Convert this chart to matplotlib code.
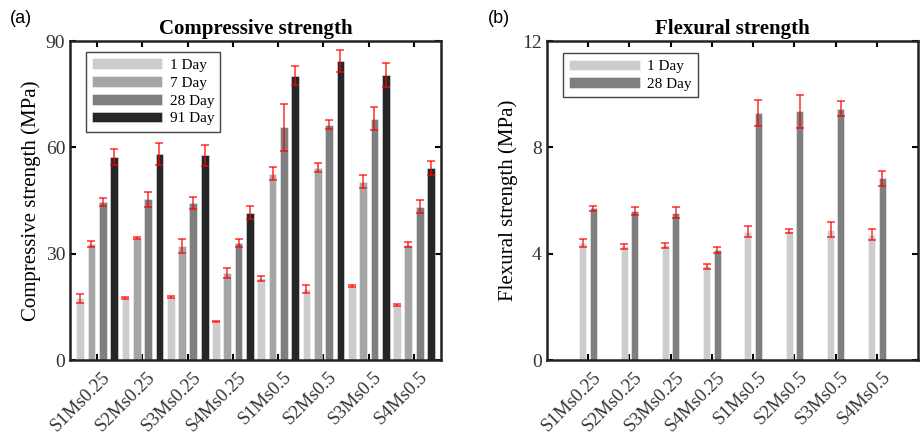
import matplotlib
matplotlib.use("Agg")
import matplotlib.pyplot as plt
import matplotlib.transforms as mtransforms
import numpy as np

plt.rcParams['font.family'] = ['Liberation Serif', 'DejaVu Serif']

labels = ['S1Ms0.25', 'S2Ms0.25', 'S3Ms0.25', 'S4Ms0.25',
          'S1Ms0.5', 'S2Ms0.5', 'S3Ms0.5', 'S4Ms0.5']

# compressive strength (MPa)
comp_1d = [17.4, 17.5, 17.8, 10.8, 23.0, 20.0, 20.9, 15.4]
comp_1d_err = [1.3, 0.3, 0.3, 0.1, 0.7, 1.2, 0.4, 0.3]
comp_7d = [32.8, 34.5, 32.2, 24.5, 52.6, 54.3, 50.3, 32.5]
comp_7d_err = [0.8, 0.3, 2.0, 1.5, 1.9, 1.3, 1.8, 0.7]
comp_28d = [44.6, 45.3, 44.2, 33.1, 65.6, 66.4, 68.1, 43.3]
comp_28d_err = [1.2, 2.0, 1.7, 1.1, 6.5, 1.2, 3.3, 1.8]
comp_91d = [57.3, 58.1, 57.7, 41.6, 80.2, 84.3, 80.3, 54.2]
comp_91d_err = [2.3, 3.0, 2.9, 1.8, 2.7, 3.1, 3.4, 2.0]

# flexural strength (MPa)
flex_1d = [4.41, 4.28, 4.31, 3.53, 4.83, 4.85, 4.90, 4.72]
flex_1d_err = [0.15, 0.10, 0.09, 0.09, 0.20, 0.08, 0.28, 0.22]
flex_28d = [5.70, 5.59, 5.54, 4.13, 9.29, 9.35, 9.46, 6.83]
flex_28d_err = [0.10, 0.15, 0.21, 0.11, 0.48, 0.63, 0.29, 0.28]

c1, c7, c28, c91 = '#cccccc', '#a5a5a5', '#7f7f7f', '#262626'

fig = plt.figure(figsize=(9.21, 4.34), dpi=100)
ax1 = fig.add_axes([0.076, 0.1705, 0.403, 0.735])
ax2 = fig.add_axes([0.5936, 0.1705, 0.4035, 0.735])

x = np.arange(1, len(labels) + 1)
w = 0.17


def draw(ax, series, offsets):
    for (vals, errs, col, name), off in zip(series, offsets):
        ax.bar(x + off, vals, w, color=col, edgecolor=(1, 1, 1, 0.5),
               linewidth=0.6, label=name, zorder=2)
    for (vals, errs, col, name), off in zip(series, offsets):
        ax.errorbar(x + off, vals, yerr=errs, fmt='none', ecolor=(1, 0, 0, 0.75),
                    elinewidth=1.2, capsize=3, capthick=1.2, zorder=3)


draw(ax1, [(comp_1d, comp_1d_err, c1, '1 Day'),
           (comp_7d, comp_7d_err, c7, '7 Day'),
           (comp_28d, comp_28d_err, c28, '28 Day'),
           (comp_91d, comp_91d_err, c91, '91 Day')],
     [-0.375, -0.125, 0.125, 0.375])
draw(ax2, [(flex_1d, flex_1d_err, c1, '1 Day'),
           (flex_28d, flex_28d_err, c28, '28 Day')],
     [-0.127, 0.127])

ax1.set_xlim(0.4, 8.6)
ax1.set_ylim(0, 90)
ax1.set_yticks([0, 30, 60, 90])
ax1.set_ylabel('Compressive strength (MPa)', fontsize=15, labelpad=3)
ax1.set_title('Compressive strength', fontsize=15, fontweight='bold', pad=5)

ax2.set_xlim(0, 9)
ax2.set_ylim(0, 12)
ax2.set_yticks([0, 4, 8, 12])
ax2.set_ylabel('Flexural strength (MPa)', fontsize=15, labelpad=3)
ax2.set_title('Flexural strength', fontsize=15, fontweight='bold', pad=5)

for ax, anchor in [(ax1, (0.042, 0.965)), (ax2, (0.0447, 0.961))]:
    ax.set_xticks(x)
    ax.set_xticklabels(labels, rotation=45, ha='right')
    ax.tick_params(direction='in', length=4, width=1.5, labelsize=14,
                   top=True, right=True, colors='black')
    ax.tick_params(axis='y', labelcolor='#333333')
    ax.tick_params(axis='x', labelcolor='#333333', labelsize=13.5, pad=6)
    for s in ax.spines.values():
        s.set_linewidth(1.8)
        s.set_color('#222222')
    shift = mtransforms.ScaledTranslation(12 / 72, 0, fig.dpi_scale_trans)
    for t in ax.get_xticklabels():
        t.set_transform(t.get_transform() + shift)
    leg = ax.legend(loc='upper left', bbox_to_anchor=anchor, borderaxespad=0,
                    fontsize=11, handlelength=4.6, handleheight=0.7,
                    labelspacing=0.27, handletextpad=0.5, borderpad=0.4,
                    fancybox=False, framealpha=1, edgecolor='#444444')
    leg.get_frame().set_linewidth(1.0)
    leg.set_zorder(5)

fig.text(0.011, 0.958, '(a)', fontsize=13, family=['Liberation Sans', 'DejaVu Sans'],
         va='center', ha='left')
fig.text(0.53, 0.958, '(b)', fontsize=13, family=['Liberation Sans', 'DejaVu Sans'],
         va='center', ha='left')

fig.savefig('out.png', dpi=100)
